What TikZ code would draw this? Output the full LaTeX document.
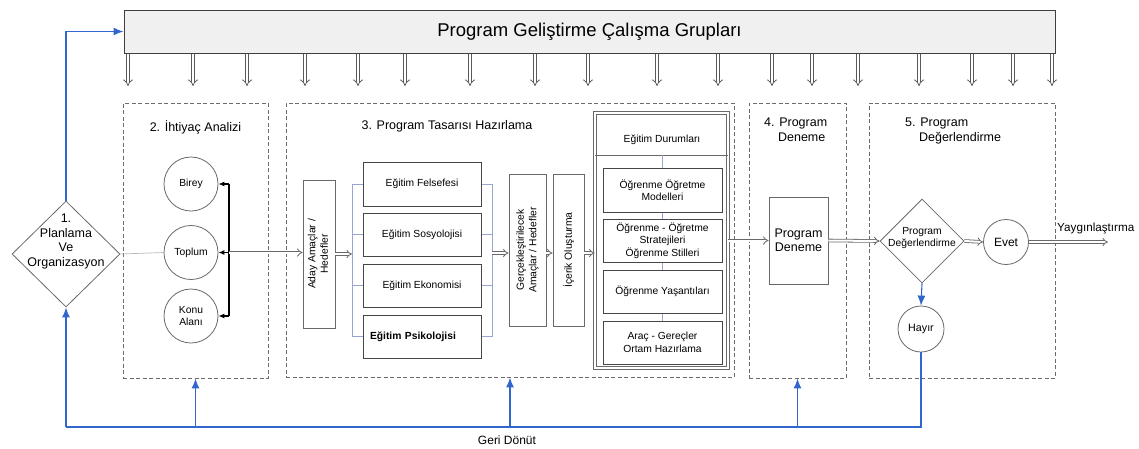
\documentclass[tikz,border=0pt]{standalone}
\usepackage{fontspec}
\usepackage{graphicx}
\setmainfont{Liberation Sans}
\usetikzlibrary{arrows.meta,shapes.geometric}
\definecolor{fbblue}{RGB}{51,102,204}
\definecolor{lineg}{RGB}{105,105,105}
\definecolor{brk}{RGB}{150,165,210}
\begin{document}
\begin{tikzpicture}[x=1pt,y=-1pt,
  t10/.style={font=\fontsize{10.3}{12.5}\selectfont},
  t12/.style={font=\fontsize{12.5}{15}\selectfont},
  phase/.style={draw=gray!85!black, dash pattern=on 4pt off 2.5pt, line width=0.8pt, inner sep=0pt},
  ebox/.style={draw=gray!55!black, line width=1pt, fill=white, inner sep=1pt, align=center, t10},
  vbox/.style={draw=lineg, line width=0.9pt, fill=white, inner sep=1pt, align=center, t10},
  circ/.style={circle, draw=lineg, line width=0.8pt, inner sep=0pt, align=center, t10},
  dbl/.style={draw=lineg, double=white, double distance=2pt, line width=0.8pt, -{Implies}},
  darr/.style={draw=gray!70!black, double=white, double distance=2.6pt, line width=0.8pt, -{Implies}},
  fb/.style={draw=fbblue, line width=1.5pt, -{Latex[length=10pt,width=8pt]}},
  fbline/.style={draw=fbblue, line width=2.2pt},
  brkt/.style={draw=brk, line width=0.8pt}]
\useasboundingbox (0,0) rectangle (1139,448);

% banner
\node[draw=gray!50!black, fill=gray!12, line width=0.9pt, minimum width=931, minimum height=43, inner sep=0pt,
      font=\fontsize{18.5}{20}\selectfont] (banner) at (589.5,31.5) {Program Geliştirme Çalışma Grupları};
\foreach \x in {128,193,247,305,358,405,470,535,588,657,718,772,812,858,919,972,1013,1052}
  \draw[darr] (\x,54) -- (\x,86);

% phase boxes
\node[phase, minimum width=145, minimum height=275] (ph2) at (195.5,240.5) {};
\node[phase, minimum width=448, minimum height=274] (ph3) at (510,240) {};
\node[phase, minimum width=97, minimum height=275] (ph4) at (797.5,240.5) {};
\node[phase, minimum width=186, minimum height=275] (ph5) at (962,240.5) {};
\node[t12] (ti2) at (195.5,127) {2. İhtiyaç Analizi};
\node[t12] (ti3) at (447,126) {3. Program Tasarısı Hazırlama};
\node[t12, align=left, anchor=north west, inner sep=0pt] (ti4) at (764,118) {4. Program\\\hspace*{13.9pt}Deneme};
\node[t12, align=left, anchor=north west, inner sep=0pt] (ti5) at (905,118) {5. Program\\\hspace*{13.9pt}Değerlendirme};

% 1. planlama
\node[diamond, draw=lineg, line width=0.8pt, minimum width=108, minimum height=106, inner sep=0pt] (d1) at (66,254) {};
\node[font=\fontsize{12.5}{14.5}\selectfont, align=center, inner sep=0pt] (d1t) at (66,241.5) {1.\\Planlama\\Ve\\Organizasyon};

% 2. ihtiyac analizi
\node[circ, minimum size=54] (birey) at (191,184) {Birey};
\node[circ, minimum size=54] (toplum) at (191,252.5) {Toplum};
\node[circ, minimum size=54] (konu) at (191,316) {Konu\\Alanı};
\coordinate (bt) at (229,184);
\coordinate (bm) at (229,252.5);
\coordinate (bb) at (229,316);
\draw[line width=1.2pt] (bt) -- (bb);
\draw[line width=1.2pt, -{Latex[length=6pt,width=5pt]}] (bt) -- (birey.east);
\draw[line width=1.2pt, -{Latex[length=6pt,width=5pt]}] (bm) -- (toplum.east);
\draw[line width=1.2pt, -{Latex[length=6pt,width=5pt]}] (bb) -- (konu.east);
\draw[gray!55, line width=0.7pt] (d1.east) -- (toplum.west);

% 3. program tasarisi
\node[vbox, minimum width=32, minimum height=148] (aday) at (319,254)
  {\rotatebox{90}{\begin{tabular}{@{}c@{}}Aday Amaçlar /\\Hedefler\end{tabular}}};
\draw[dbl] (bm) -- (bm -| aday.west);
\node[ebox, minimum width=118, minimum height=44] (fel) at (422,184) {Eğitim Felsefesi};
\node[ebox, minimum width=118, minimum height=43] (sos) at (422,234.5) {Eğitim Sosyolojisi};
\node[ebox, minimum width=118, minimum height=43] (eko) at (422,285.5) {Eğitim Ekonomisi};
\node[ebox, minimum width=118, minimum height=43, text width=104, align=left] (psi) at (422,336.5) {\textbf{Eğitim Psikolojisi}};
\coordinate (lb) at (352,254);
\coordinate (rb) at (492,253);
\draw[brkt] (fel.west -| lb) -- (psi.west -| lb);
\draw[brkt] (fel.east -| rb) -- (psi.east -| rb);
\foreach \b in {fel,sos,eko,psi} {
  \draw[brkt] (\b.west -| lb) -- (\b.west);
  \draw[brkt] (\b.east) -- (\b.east -| rb);
}
\draw[dbl] (aday.east |- lb) -- (lb);
\node[vbox, minimum width=37, minimum height=152] (gerc) at (527.5,250)
  {\rotatebox{90}{\begin{tabular}{@{}c@{}}Gerçekleştirilecek\\Amaçlar / Hedefler\end{tabular}}};
\node[vbox, minimum width=31, minimum height=152] (icerik) at (568.5,250)
  {\rotatebox{90}{İçerik Oluşturma}};
\draw[dbl] (rb) -- (rb -| gerc.west);
\draw[dbl] (gerc.east |- rb) -- (icerik.west |- rb);

% egitim durumlari
\node[draw=lineg, double=white, double distance=1.6pt, line width=0.8pt, minimum width=133, minimum height=255, inner sep=0pt] (ed) at (661.5,240.5) {};
\coordinate (edd) at (0,155);
\draw[lineg, line width=0.8pt] (ed.west |- edd) -- (ed.east |- edd);
\node[t10] (edt) at (662,140) {Eğitim Durumları};
\node[ebox, minimum width=119, minimum height=44] (ed1) at (662.5,190) {Öğrenme Öğretme\\Modelleri};
\node[ebox, minimum width=119, minimum height=43] (ed2) at (662.5,240.5) {Öğrenme - Öğretme\\Stratejileri\\Öğrenme Stilleri};
\node[ebox, minimum width=119, minimum height=43] (ed3) at (662.5,291.5) {Öğrenme Yaşantıları};
\node[ebox, minimum width=119, minimum height=43] (ed4) at (662.5,342.5) {Araç - Gereçler\\Ortam Hazırlama};
\draw[brkt] (ed1.north |- edd) -- (ed1.north);
\draw[brkt] (ed1.south) -- (ed2.north);
\draw[brkt] (ed2.south) -- (ed3.north);
\draw[brkt] (ed3.south) -- (ed4.north);
\draw[dbl] (icerik.east |- rb) -- (ed.west |- rb);

% 4. program deneme
\node[vbox, font=\fontsize{12.5}{14}\selectfont, minimum width=59, minimum height=87] (pd) at (798.5,240.5) {Program\\Deneme};
\draw[dbl] (ed.east |- pd.west) -- (pd.west);

% 5. program degerlendirme
\node[diamond, draw=lineg, line width=0.8pt, minimum width=84, minimum height=84, inner sep=0pt] (d2) at (922,241) {};
\node[t10, align=center, inner sep=0pt] (d2t) at (922,238) {Program\\Değerlendirme};
\draw[dbl] (pd.east) -- (d2.west);
\node[circ, minimum size=45, font=\fontsize{12}{14}\selectfont] (evet) at (1006,242) {Evet};
\draw[dbl] (d2.east) -- (evet.west);
\coordinate (yay) at (1108,242);
\draw[dbl] (evet.east) -- (yay);
\node[font=\fontsize{11.7}{14}\selectfont, anchor=west, inner sep=0pt] (yayt) at (1057,228) {Yaygınlaştırma};
\node[circ, minimum size=46, font=\fontsize{10.7}{13}\selectfont] (hayir) at (921,329) {Hayır};
\draw[draw=fbblue, line width=1.1pt, -{Latex[length=10pt,width=8pt]}] (d2.south) -- (hayir.north);

% geri donut
\coordinate (gR) at (921,427);
\coordinate (gL) at (66,427);
\draw[fbline] (hayir.south) -- (gR) -- (gL);
\draw[fb] (gL) -- (d1.south);
\draw[fb] (ph2.south |- gL) -- (ph2.south);
\draw[fb] (ph3.south |- gL) -- (ph3.south);
\draw[fb] (ph4.south |- gL) -- (ph4.south);
\draw[fb] (d1.north) |- (banner.west);
\node[font=\fontsize{12}{14}\selectfont] (geri) at (507,440) {Geri Dönüt};
\end{tikzpicture}
\end{document}
